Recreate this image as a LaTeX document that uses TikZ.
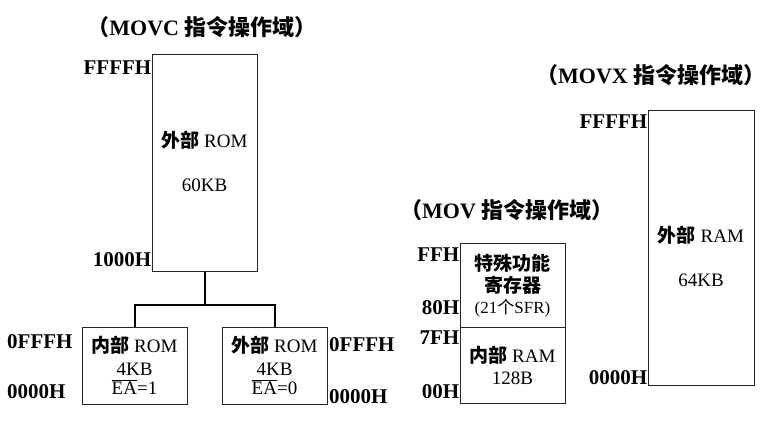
\documentclass[tikz,border=0pt]{standalone}
\usepackage{fontspec}
\setmainfont{Liberation Serif}
\newfontfamily\cjk{Noto Sans CJK SC}
\newcommand\zhb[1]{{\cjk\bfseries #1}}
\tikzset{
  box/.style={draw=black!85, line width=1pt, inner sep=0pt, anchor=center},
  addr/.style={font=\fontsize{21}{24}\selectfont\bfseries, inner sep=0pt},
  ttl/.style={font=\fontsize{22}{26}\selectfont\bfseries, inner sep=0pt},
  txt/.style={font=\fontsize{19}{22}\selectfont, inner sep=0pt, align=center},
  link/.style={line width=2pt, black}
}
\begin{document}
\begin{tikzpicture}[x=1pt,y=-1pt]
\useasboundingbox (0,0) rectangle (779,426);
% titles
\node[ttl] (t1) at (202,27) {\zhb{（}MOVC \zhb{指令操作域）}};
\node[ttl,anchor=west] (t2) at (400,210) {\zhb{（}MOV \zhb{指令操作域）}};
\node[ttl,anchor=west] (t3) at (536,75) {\zhb{（}MOVX \zhb{指令操作域）}};
% MOVC
\node[box, minimum width=105pt, minimum height=217pt] (rom) at (204.5,162.5) {};
\node[txt] (romt) at (204.5,140) {\zhb{外部} ROM};
\node[txt] (romk) at (204.5,185) {60KB};
\node[box, minimum width=105pt, minimum height=77pt] (lrom) at (134.5,365.5) {};
\node[txt] (lromt) at (134.5,365) {\zhb{内部} ROM\\[1pt]4KB\\[-3pt]$\overline{\mbox{EA}}$=1};
\node[box, minimum width=105pt, minimum height=77pt] (rrom) at (274.5,365.5) {};
\node[txt] (rromt) at (274.5,365) {\zhb{外部} ROM\\[1pt]4KB\\[-3pt]$\overline{\mbox{EA}}$=0};
\coordinate (j) at (204.5,305);
\draw[link] (rom.south) -- (j);
\draw[link] (lrom.north) |- (j) -| (rrom.north);
\node[addr,anchor=east] (a1) at (rom.west |- 0,68) {FFFFH};
\node[addr,anchor=east] (a2) at (rom.west |- 0,260) {1000H};
\node[addr,anchor=west] (a3) at (7,342) {0FFFH};
\node[addr,anchor=west] (a4) at (7,392) {0000H};
\node[addr,anchor=west] (a5) at (329,345) {0FFFH};
\node[addr,anchor=west] (a6) at (329,397) {0000H};
% MOV
\node[box, minimum width=105pt, minimum height=84pt] (sfr) at (512.5,285) {};
\node[box, minimum width=105pt, minimum height=76pt] (ram) at (512.5,365) {};
\node[txt] (sfrt) at (512.5,274.5) {\zhb{特殊功能}\\[0pt]\zhb{寄存器}};
\node[txt,font=\fontsize{17}{20}\selectfont] (sfrn) at (512.5,308) {(21{\cjk 个}SFR)};
\node[txt] (ramt) at (512.5,365) {\zhb{内部} RAM\\[0pt]128B};
\node[addr,anchor=east] (b1) at (sfr.west |- 0,255) {FFH};
\node[addr,anchor=east] (b2) at (sfr.west |- 0,308) {80H};
\node[addr,anchor=east] (b3) at (sfr.west |- 0,338) {7FH};
\node[addr,anchor=east] (b4) at (sfr.west |- 0,392) {00H};
% MOVX
\node[box, minimum width=106pt, minimum height=275pt] (xram) at (701,247.5) {};
\node[txt] (xramt) at (701,235) {\zhb{外部} RAM};
\node[txt] (xramk) at (701,280) {64KB};
\node[addr,anchor=east] (c1) at (xram.west |- 0,122) {FFFFH};
\node[addr,anchor=east] (c2) at (xram.west |- 0,378) {0000H};
\end{tikzpicture}
\end{document}
